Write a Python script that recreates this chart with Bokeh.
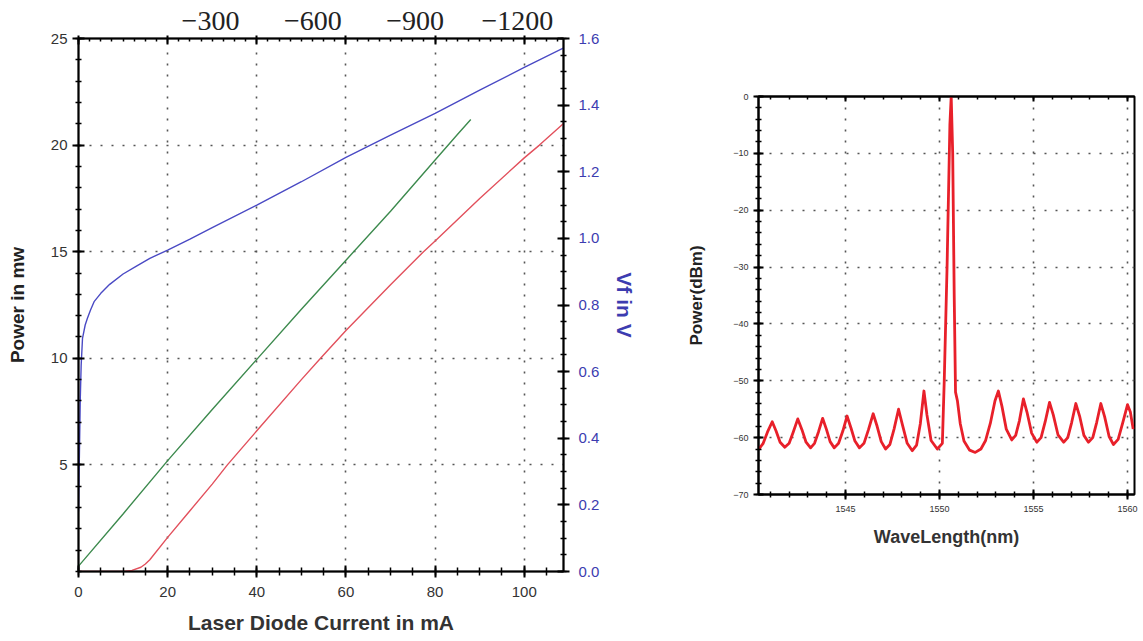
import numpy as np
from bokeh.plotting import figure
from bokeh.models import Range1d, LinearAxis, FixedTicker
from bokeh.layouts import row, column
from bokeh.embed import file_html
from bokeh.resources import INLINE

# ---------------- data: left chart (L-I-V) ----------------
current_vf = [0, 0.2, 0.4, 0.6, 0.9, 1.5, 2.0, 2.7, 3.5, 5, 7, 10, 13, 16, 20,
              25, 30, 40, 50, 60, 70, 80, 90, 100, 109]
vf_volts = [0.18, 0.35, 0.52, 0.62, 0.70, 0.74, 0.76, 0.785, 0.81, 0.835, 0.862,
            0.893, 0.917, 0.94, 0.965, 0.998, 1.032, 1.10, 1.17, 1.243, 1.31,
            1.375, 1.445, 1.513, 1.573]

current_green = [0, 10, 20, 30, 40, 50, 60, 70, 80, 85, 88]
power_green = [0.25, 2.7, 5.2, 7.6, 9.95, 12.3, 14.6, 16.9, 19.3, 20.5, 21.2]

current_red = [0, 10, 12, 14, 15, 16, 20, 25, 30, 33.4, 40, 50, 54.3, 60, 70,
               77.4, 80, 90, 100, 103.4, 109]
power_red = [0, 0, 0.05, 0.2, 0.35, 0.55, 1.6, 2.85, 4.1, 5.0, 6.6, 9.0, 10.0,
             11.3, 13.45, 15.0, 15.5, 17.5, 19.4, 20.0, 21.05]

current_ticks = [0, 20, 40, 60, 80, 100]
power_ticks = [5, 10, 15, 20, 25]
vf_ticks = [0.0, 0.2, 0.4, 0.6, 0.8, 1.0, 1.2, 1.4, 1.6]
top_tick_values = [-300, -600, -900, -1200]
top_tick_labels = ["\u2212300", "\u2212600", "\u2212900", "\u22121200"]

# ---------------- data: right chart (spectrum) ----------------
wavelength_nm = [
    1540.40, 1540.62, 1540.85, 1541.10, 1541.30, 1541.52, 1541.77, 1542.00,
    1542.22, 1542.46, 1542.68, 1542.90, 1543.14, 1543.35, 1543.56, 1543.78,
    1543.98, 1544.18, 1544.40, 1544.63, 1544.86, 1545.08, 1545.29, 1545.50,
    1545.74, 1545.98, 1546.22, 1546.47, 1546.68, 1546.90, 1547.13, 1547.36,
    1547.58, 1547.82, 1548.03, 1548.28, 1548.55, 1548.78, 1548.98, 1549.17,
    1549.33, 1549.55, 1549.88, 1550.15, 1550.25, 1550.40, 1550.55, 1550.62,
    1550.70, 1550.78, 1550.85, 1550.95, 1551.10, 1551.30, 1551.60, 1551.90,
    1552.20, 1552.45, 1552.70, 1552.95, 1553.13, 1553.32, 1553.55, 1553.84,
    1554.05, 1554.25, 1554.46, 1554.65, 1554.90, 1555.17, 1555.40, 1555.62,
    1555.85, 1556.05, 1556.30, 1556.60, 1556.82, 1557.03, 1557.25, 1557.45,
    1557.68, 1557.92, 1558.15, 1558.36, 1558.58, 1558.78, 1559.02, 1559.25,
    1559.50, 1559.75, 1560.00, 1560.15, 1560.30]
power_dbm = [
    -62.0, -61.0, -59.0, -57.2, -58.8, -60.8, -61.7, -61.0,
    -59.0, -56.7, -58.6, -60.8, -61.8, -61.0, -59.0, -56.6,
    -58.5, -60.7, -61.8, -61.0, -58.8, -56.2, -58.3, -60.6,
    -61.8, -61.0, -58.6, -55.8, -58.0, -60.7, -62.0, -61.2,
    -58.5, -55.0, -57.8, -61.0, -62.3, -61.3, -57.5, -51.8,
    -56.0, -60.5, -62.0, -61.0, -50.0, -30.0, -5.0, 0.0,
    -10.0, -35.0, -52.0, -53.5, -57.5, -60.6, -62.2, -62.6,
    -62.0, -60.5, -57.5, -53.5, -51.8, -54.5, -58.5, -60.4,
    -59.6, -57.0, -53.2, -55.5, -59.2, -60.8, -60.0, -57.2,
    -53.8, -56.0, -59.5, -60.8, -60.0, -57.3, -54.0, -56.2,
    -59.6, -60.8, -60.0, -57.3, -54.0, -56.3, -59.8, -61.2,
    -60.3, -57.3, -54.2, -55.5, -58.5]
wl_ticks = [1545, 1550, 1555, 1560]
dbm_ticks = [-70, -60, -50, -40, -30, -20, -10, 0]

SANS = "Liberation Sans"
BLUE_TXT = "#3c3cb0"
GRID = dict(grid_line_color="#555555", grid_line_dash="2 9", grid_line_width=1.6)

# =============== left figure ===============
p1 = figure(width=658, height=641, x_range=Range1d(0, 108.8), y_range=Range1d(0, 25),
            output_backend="svg", toolbar_location=None,
            min_border_left=78, min_border_right=95, min_border_top=38, min_border_bottom=70)
p1.outline_line_color = "black"
p1.outline_line_width = 1.5

p1.extra_y_ranges = {"vf": Range1d(0, 1.6)}
p1.extra_x_ranges = {"top": Range1d(87, -1335)}

p1.line(current_red, power_red, line_color="#e2505c", line_width=1.4)
p1.line(current_green, power_green, line_color="#3d8a4e", line_width=1.4)
p1.line(current_vf, vf_volts, y_range_name="vf", line_color="#4a4ac4", line_width=1.4)

def style_axis(ax, size="15px", color="#333333"):
    ax.axis_line_color = "black"
    ax.axis_line_width = 2
    ax.major_tick_line_color = "black"
    ax.major_tick_line_width = 2
    ax.minor_tick_line_color = "black"
    ax.minor_tick_line_width = 1.5
    ax.major_label_text_font = SANS
    ax.major_label_text_font_size = size
    ax.major_label_text_color = color

xa = p1.xaxis[0]
xa.ticker = FixedTicker(ticks=current_ticks, minor_ticks=list(np.arange(0, 110, 5)))
style_axis(xa)
xa.major_tick_in = 6; xa.major_tick_out = 6
xa.minor_tick_in = 4; xa.minor_tick_out = 4
xa.major_label_standoff = 9
xa.axis_label = "Laser Diode Current in mA"
xa.axis_label_text_font = SANS
xa.axis_label_text_font_style = "bold"
xa.axis_label_text_font_size = "21px"
xa.axis_label_text_color = "#333333"
xa.axis_label_standoff = 11

ya = p1.yaxis[0]
ya.ticker = FixedTicker(ticks=power_ticks, minor_ticks=list(np.arange(0, 26, 1)))
style_axis(ya)
ya.major_tick_in = 6; ya.major_tick_out = 6
ya.minor_tick_in = 3; ya.minor_tick_out = 3
ya.major_label_standoff = 5
ya.axis_label = "Power in mw"
ya.axis_label_text_font = SANS
ya.axis_label_text_font_style = "bold"
ya.axis_label_text_font_size = "19px"
ya.axis_label_text_color = "#222222"
ya.axis_label_standoff = 20

ra = LinearAxis(y_range_name="vf",
                ticker=FixedTicker(ticks=vf_ticks, minor_ticks=list(np.arange(0, 1.65, 0.05))))
style_axis(ra, color=BLUE_TXT)
ra.major_label_overrides = {v: f"{v:.1f}" for v in vf_ticks}
ra.major_tick_in = 6; ra.major_tick_out = 6
ra.minor_tick_in = 3; ra.minor_tick_out = 3
ra.major_label_standoff = 9
ra.axis_label = "Vf in V"
ra.axis_label_text_font = SANS
ra.axis_label_text_font_style = "bold"
ra.axis_label_text_font_size = "21px"
ra.axis_label_text_color = BLUE_TXT
ra.axis_label_standoff = 11
p1.add_layout(ra, "right")

ta = LinearAxis(ticker=FixedTicker(ticks=current_ticks, minor_ticks=list(np.arange(0, 110, 2.5))))
style_axis(ta)
ta.major_label_overrides = {t: "" for t in current_ticks}
ta.major_label_standoff = 0
ta.major_tick_in = 6; ta.major_tick_out = 3
ta.minor_tick_in = 3; ta.minor_tick_out = 0
p1.add_layout(ta, "above")

tl = LinearAxis(x_range_name="top", ticker=FixedTicker(ticks=top_tick_values, minor_ticks=[]))
tl.axis_line_color = None
tl.major_tick_line_color = None
tl.minor_tick_line_color = None
tl.major_label_overrides = dict(zip(top_tick_values, top_tick_labels))
tl.major_label_text_font = "Liberation Serif"
tl.major_label_text_font_size = "28px"
tl.major_label_text_color = "#222222"
tl.major_label_standoff = 0
p1.add_layout(tl, "above")

p1.xgrid.ticker = FixedTicker(ticks=[20, 40, 60, 80, 100])
p1.ygrid.ticker = FixedTicker(ticks=[5, 10, 15, 20])
for g in (p1.xgrid[0], p1.ygrid[0]):
    for k, v in GRID.items():
        setattr(g, k, v)

# =============== right figure ===============
p2 = figure(width=482, height=641, x_range=Range1d(1540.37, 1560.37), y_range=Range1d(-70, 0),
            output_backend="svg", toolbar_location=None,
            min_border_left=100, min_border_right=6, min_border_top=96, min_border_bottom=147)
p2.outline_line_color = "black"
p2.outline_line_width = 2

p2.line(wavelength_nm, power_dbm, line_color="#e8202a", line_width=2.8, line_join="round")

xb = p2.xaxis[0]
xb.ticker = FixedTicker(ticks=wl_ticks, minor_ticks=list(np.arange(1540, 1561, 1)))
style_axis(xb, size="9px", color="#333333")
xb.major_tick_in = 5; xb.major_tick_out = 5
xb.minor_tick_in = 3; xb.minor_tick_out = 3
xb.major_label_standoff = 6
xb.axis_label = "WaveLength(nm)"
xb.axis_label_text_font = SANS
xb.axis_label_text_font_style = "bold"
xb.axis_label_text_font_size = "18px"
xb.axis_label_text_color = "#333333"
xb.axis_label_standoff = 12

yb = p2.yaxis[0]
yb.ticker = FixedTicker(ticks=dbm_ticks, minor_ticks=list(np.arange(-70, 1, 2)))
style_axis(yb, size="9px", color="#333333")
yb.major_tick_in = 5; yb.major_tick_out = 5
yb.minor_tick_in = 3; yb.minor_tick_out = 3
yb.major_label_standoff = 5
yb.axis_label = "Power(dBm)"
yb.axis_label_text_font = SANS
yb.axis_label_text_font_style = "bold"
yb.axis_label_text_font_size = "17px"
yb.axis_label_text_color = "#222222"
yb.axis_label_standoff = 24

tb = LinearAxis(ticker=FixedTicker(ticks=wl_ticks, minor_ticks=list(np.arange(1540, 1561, 1))))
style_axis(tb)
tb.major_label_overrides = {t: "" for t in wl_ticks}
tb.major_label_standoff = 0
tb.major_tick_in = 5; tb.major_tick_out = 0
tb.minor_tick_in = 3; tb.minor_tick_out = 0
p2.add_layout(tb, "above")

p2.xgrid.ticker = FixedTicker(ticks=wl_ticks)
p2.ygrid.ticker = FixedTicker(ticks=[-60, -50, -40, -30, -20, -10])
for g in (p2.xgrid[0], p2.ygrid[0]):
    for k, v in GRID.items():
        setattr(g, k, v)

layout = row(column(p1), column(p2))
open("out.html", "w").write(file_html(layout, INLINE))
